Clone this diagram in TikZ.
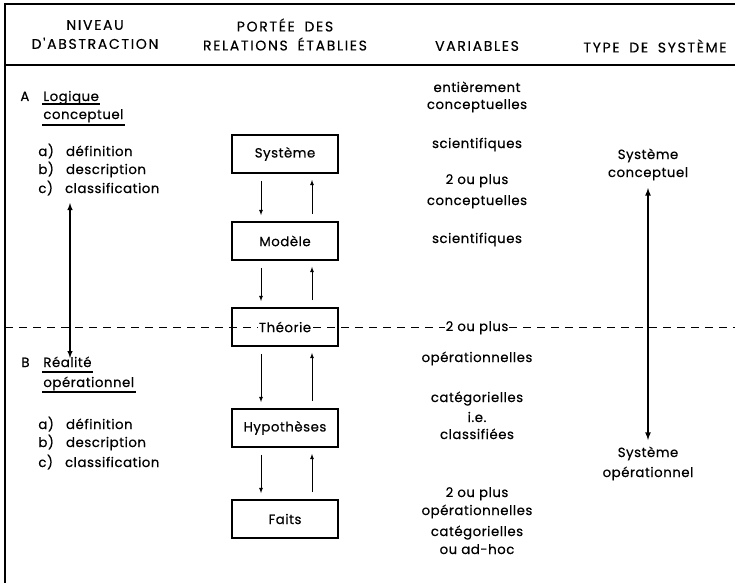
\documentclass[tikz,border=0pt]{standalone}
\usepackage{fontspec}
\setmainfont[LetterSpace=4, FakeBold=0.5]{Poppins}
\newfontfamily\headfont[LetterSpace=12, WordSpace=1.8, FakeBold=0.4]{Poppins}
\setlength{\fboxsep}{1pt}
\begin{document}
\begin{tikzpicture}[x=1pt, y=-1pt, thick, >=latex,
    every node/.style={font=\fontsize{13.3}{16}\selectfont, inner sep=1pt},
    head/.style={font=\headfont\fontsize{14}{19}\selectfont, align=center},
    stage/.style={draw, line width=1.8pt, minimum width=106, minimum height=38, inner sep=0pt},
    flow/.style={->, line width=0.8pt, shorten >=6pt, shorten <=7pt},
    span/.style={<->, line width=1.4pt}]

    \useasboundingbox (0,0) rectangle (735,583);

    % Frame, header rule and dashed split
    \draw[line width=1.8pt] (735,4) -- (5,4) -- (5,583);
    \draw[line width=1.4pt] (5,65) -- (735,65);
    \draw[line width=1pt, dash pattern=on 8pt off 6pt] (5,327) -- (735,327);

    % Header
    \node[head] at (95, 34.5) (hniv) {NIVEAU\\D'ABSTRACTION};
    \node[head] at (285, 34.5) (hport) {PORTÉE DES\\RELATIONS ÉTABLIES};
    \node[head] at (477, 46) (hvar) {VARIABLES};
    \node[head] at (655, 46) (htype) {TYPE DE SYSTÈME};

    % Level A
    \node[anchor=base west] at (19, 101) (labA) {A};
    \node[anchor=base west] at (42, 101) (logique) {Logique};
    \node[anchor=base west] at (42, 119) (concA) {conceptuel};
    \node[anchor=base west] at (37, 156) (defA) {a)\hspace{8pt} définition};
    \node[anchor=base west] at (37, 174) (descA) {b)\hspace{8pt} description};
    \node[anchor=base west] at (37, 193) (clasA) {c)\hspace{8pt} classification};
    \draw[line width=1.2pt] ([yshift=-3pt]logique.base west) -- ([yshift=-3pt]logique.base east);
    \draw[line width=1.2pt] ([yshift=-6pt]concA.base west) -- ([yshift=-6pt]concA.base east);

    % Level B
    \node[anchor=base west] at (20, 367) (labB) {B};
    \node[anchor=base west] at (42, 367) (realite) {Réalité};
    \node[anchor=base west] at (42, 387) (opB) {opérationnel};
    \node[anchor=base west] at (37, 429) (defB) {a)\hspace{8pt} définition};
    \node[anchor=base west] at (37, 447) (descB) {b)\hspace{8pt} description};
    \node[anchor=base west] at (37, 467) (clasB) {c)\hspace{8pt} classification};
    \draw[line width=1.2pt] ([yshift=-5pt]realite.base west) -- ([yshift=-5pt]realite.base east);
    \draw[line width=1.2pt] ([yshift=-5pt]opB.base west) -- ([yshift=-5pt]opB.base east);

    % Arrow between the two levels
    \coordinate (levTop) at (70, 203);
    \coordinate (levBot) at (70, 358);
    \draw[span] (levTop) -- (levBot);

    % Boxes for the relations
    \node[stage] at (285, 154) (sys) {Système};
    \node[stage] at (285, 241) (mod) {Modèle};
    \node[stage] at (285, 327) (theo) {\colorbox{white}{Théorie}};
    \node[stage] at (285, 428) (hyp) {Hypothèses};
    \node[stage] at (285, 519) (faits) {Faits};

    % Arrows between the boxes
    \draw[flow] ([xshift=-24pt]sys.south) -- ([xshift=-24pt]mod.north);
    \draw[flow] ([xshift=27pt]mod.north) -- ([xshift=27pt]sys.south);
    \draw[flow] ([xshift=-24pt]mod.south) -- ([xshift=-24pt]theo.north);
    \draw[flow] ([xshift=27pt]theo.north) -- ([xshift=27pt]mod.south);
    \draw[flow] ([xshift=-24pt]theo.south) -- ([xshift=-24pt]hyp.north);
    \draw[flow] ([xshift=27pt]hyp.north) -- ([xshift=27pt]theo.south);
    \draw[flow] ([xshift=-24pt]hyp.south) -- ([xshift=-24pt]faits.north);
    \draw[flow] ([xshift=27pt]faits.north) -- ([xshift=27pt]hyp.south);

    % Variables
    \node[anchor=base] at (477, 92) (var1) {entièrement};
    \node[anchor=base] at (477, 109) (var2) {conceptuelles};
    \node[anchor=base] at (477, 148) (var3) {scientifiques};
    \node[anchor=base] at (477, 184) (var4) {2 ou plus};
    \node[anchor=base] at (477, 205) (var5) {conceptuelles};
    \node[anchor=base] at (477, 243) (var6) {scientifiques};
    \node[anchor=base, fill=white] at (477, 331) (var7) {2 ou plus};
    \node[anchor=base] at (477, 362) (var8) {opérationnelles};
    \node[anchor=base] at (477, 402) (var9) {catégorielles};
    \node[anchor=base] at (477, 422) (var10) {i.e.};
    \node[anchor=base] at (477, 439) (var11) {classifiées};
    \node[anchor=base] at (477, 497) (var12) {2 ou plus};
    \node[anchor=base] at (477, 515) (var13) {opérationnelles};
    \node[anchor=base] at (477, 536) (var14) {catégorielles};
    \node[anchor=base] at (477, 554) (var15) {ou ad-hoc};

    % Type of system
    \node[anchor=base] at (648, 159) (tconc1) {Système};
    \node[anchor=base] at (648, 177) (tconc2) {conceptuel};
    \node[anchor=base] at (648, 457) (top1) {Système};
    \node[anchor=base] at (648, 477) (top2) {opérationnel};
    \coordinate (typTop) at (648, 188);
    \coordinate (typBot) at (648, 440);
    \draw[span, line width=1.6pt] (typTop) -- (typBot);

\end{tikzpicture}
\end{document}
